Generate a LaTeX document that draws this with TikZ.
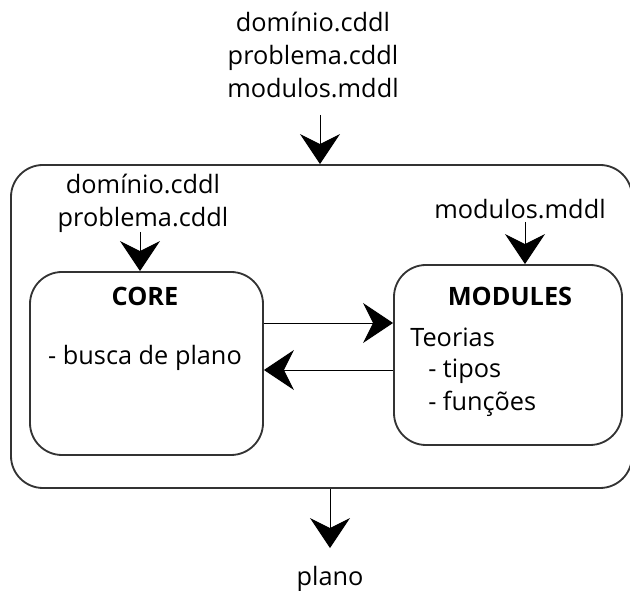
\documentclass[tikz,border=0pt]{standalone}
\usepackage{fontspec}
\setmainfont{Open Sans}
\usetikzlibrary{arrows.meta,
                    calc}

\begin{document}
\begin{tikzpicture}[
    caixa/.style={draw=black!80,line width=1.3pt,rounded corners=0.8cm,inner sep=0pt},
    txt/.style={inner sep=0pt,align=center,font=\fontsize{18}{23.5}\selectfont},
    titulo/.style={inner sep=0pt,font=\fontsize{18}{23.5}\selectfont\bfseries},
    seta/.style={line width=0.7pt,-{Stealth[length=0.75cm,width=1cm,inset=0.25cm]}}]
    \useasboundingbox (0,0) rectangle (15.75,14.775);

    % caixas
    \node[caixa,minimum width=15.525cm,minimum height=8.075cm] (sistema) at (8.0375,6.6125) {};
    \node[caixa,minimum width=5.825cm,minimum height=4.575cm] (core) at (3.6625,5.6875) {};
    \node[caixa,minimum width=5.7cm,minimum height=4.5cm] (modules) at (12.7,5.9) {};

    % textos
    \node[txt] (entrada) at (7.825,13.4) {domínio.cddl\\problema.cddl\\modulos.mddl};
    \node[txt] (arqcore) at (3.575,9.7) {domínio.cddl\\problema.cddl};
    \node[txt] (arqmod) at (13.0,9.55) {modulos.mddl};
    \node[txt] (plano) at (8.25,0.3) {plano};

    \node[titulo] (tcore) at (3.625,7.375) {CORE};
    \node[txt] (busca) at (3.625,5.825) {- busca de plano};
    \node[titulo] (tmod) at (12.75,7.375) {MODULES};
    \node[txt,anchor=west] (teorias) at (10.25,6.35) {Teorias};
    \node[txt,anchor=west] (tipos) at (10.7,5.5) {- tipos};
    \node[txt,anchor=west] (funcoes) at (10.7,4.675) {- funções};

    % setas
    \coordinate (in) at (8,11.9);
    \draw[seta] (in) -- (in |- sistema.north);
    \coordinate (incore) at (3.5,8.975);
    \draw[seta] (incore) -- (incore |- core.north);
    \coordinate (inmod) at (13.125,9.225);
    \draw[seta] (inmod) -- (inmod |- modules.north);

    \draw[seta] (core.east |- 0,6.7) -- (modules.west |- 0,6.7);
    \draw[seta] (modules.west |- 0,5.525) -- (core.east |- 0,5.525);

    \draw[seta] (sistema.south -| plano.north) -- ([yshift=0.45cm]plano.north);
\end{tikzpicture}
\end{document}
